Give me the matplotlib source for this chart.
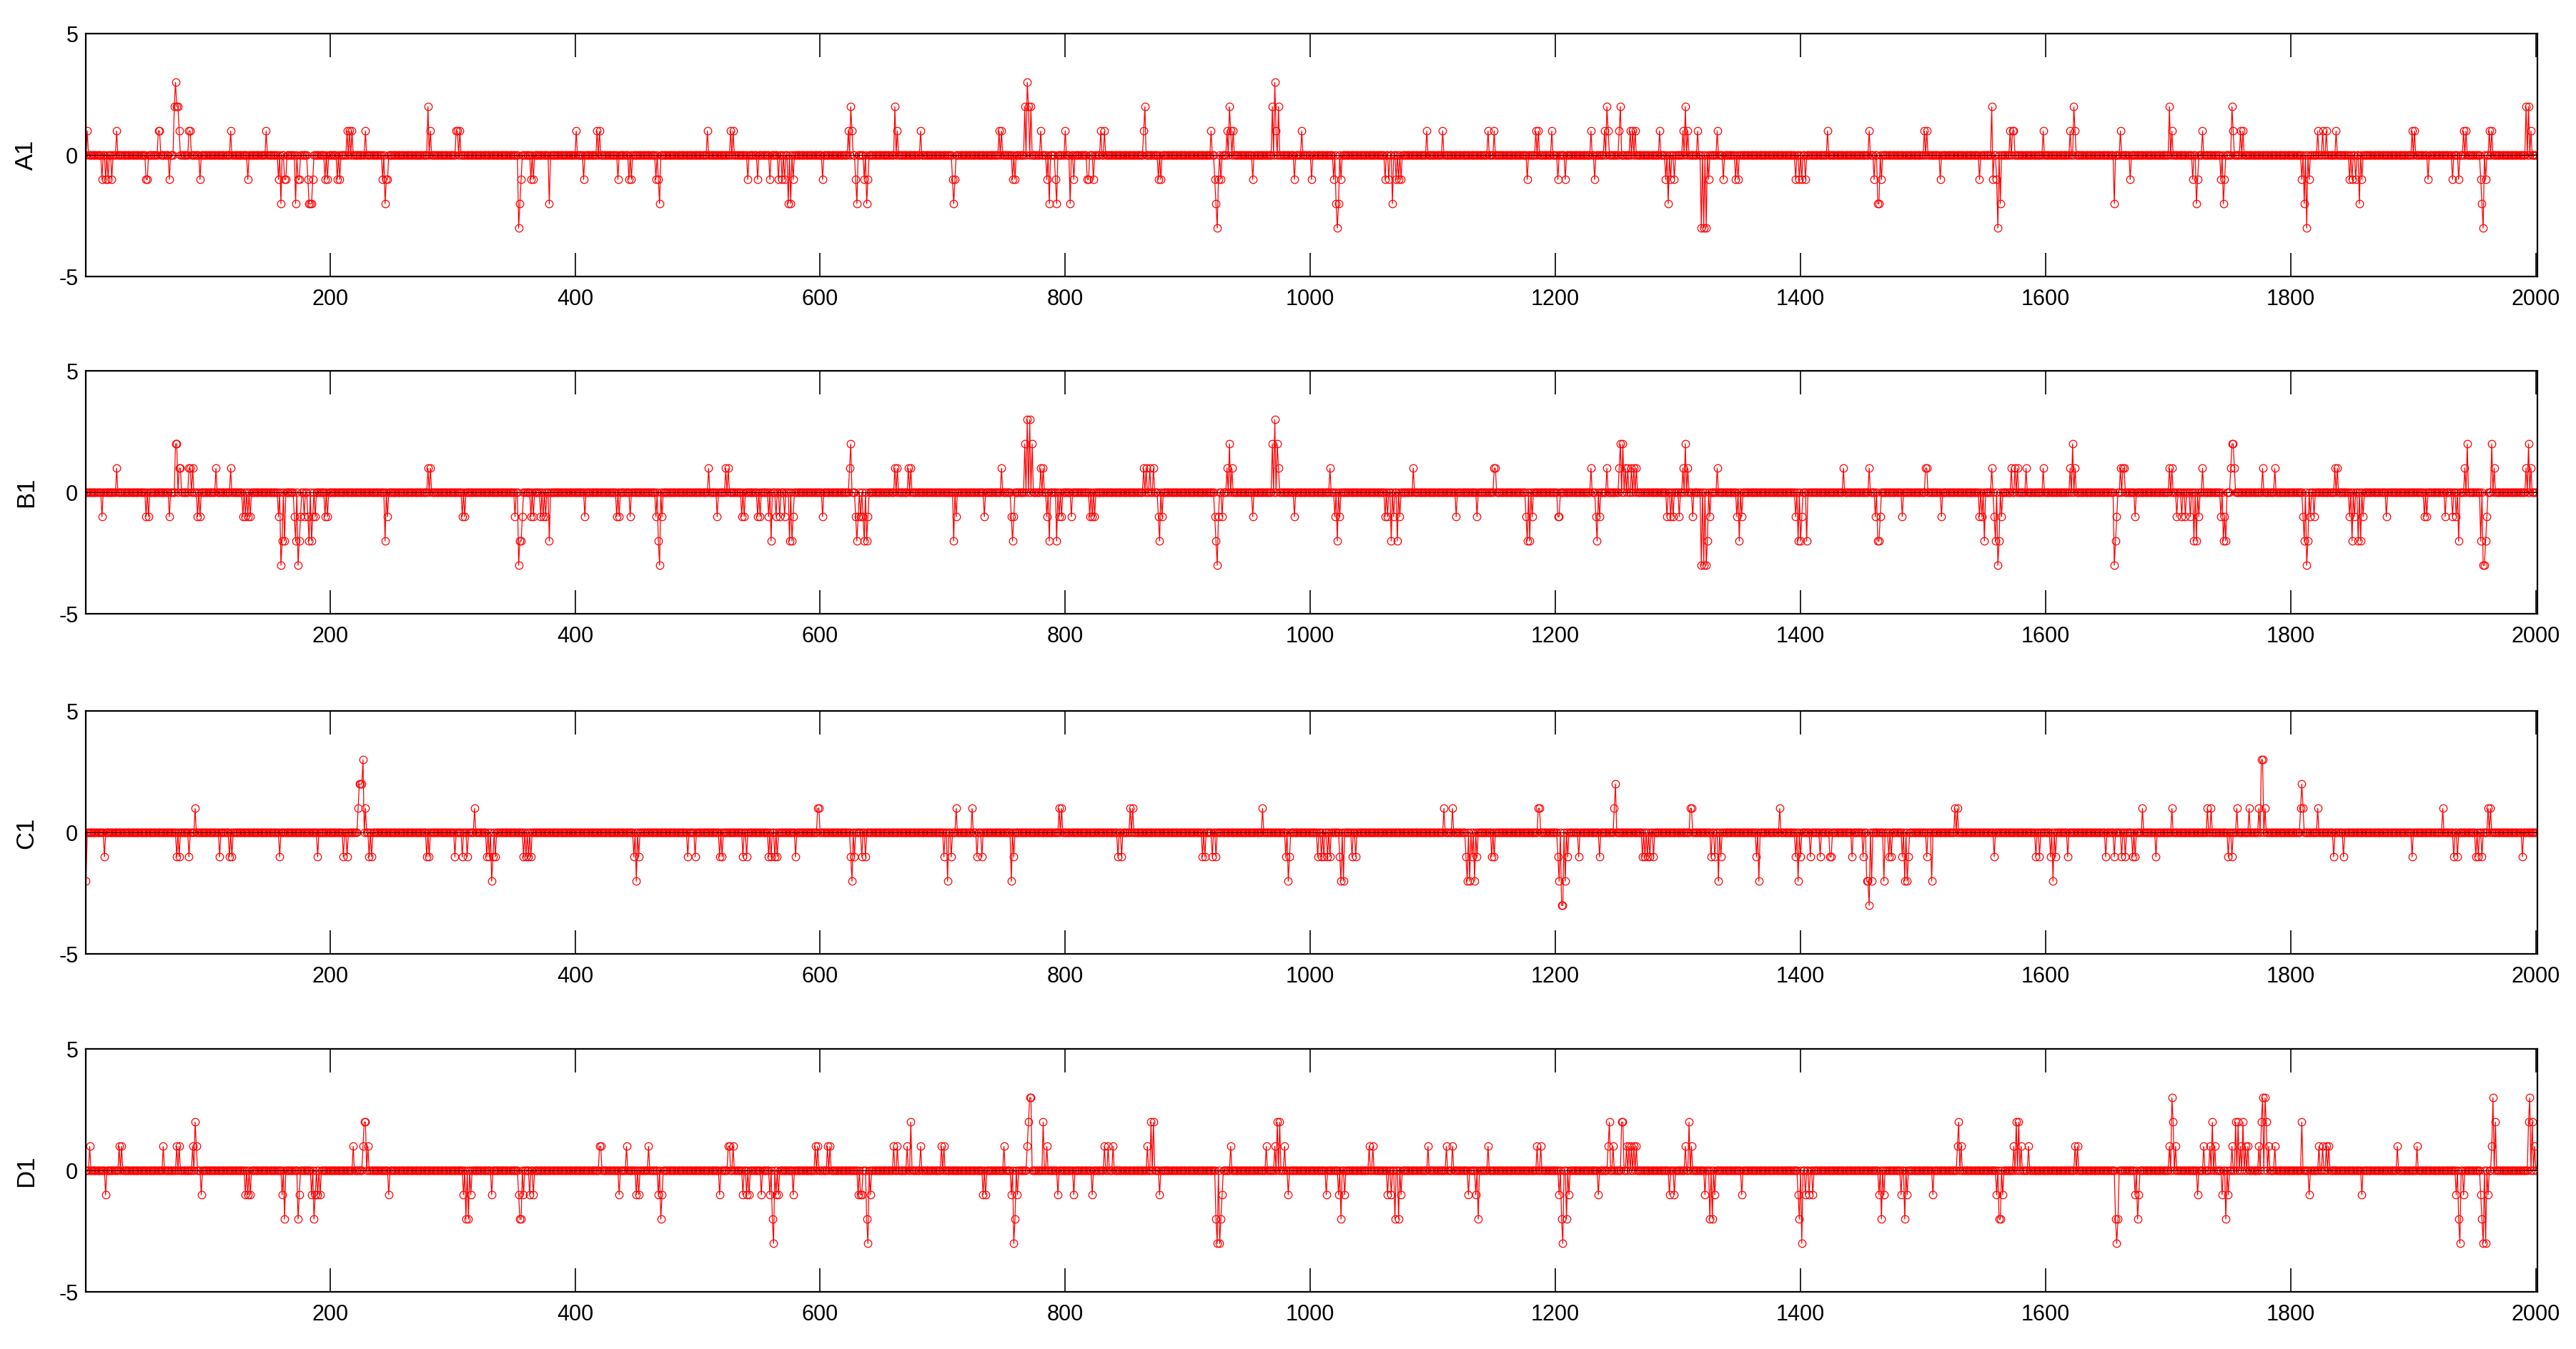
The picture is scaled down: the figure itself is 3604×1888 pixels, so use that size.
import numpy as np
import matplotlib
matplotlib.use("Agg")
import matplotlib.pyplot as plt

# number of samples in each series
n_samples = 2000

# nonzero samples: (sample index, value), every other sample is 0
a1_events = [(2,1),(14,-1),(17,-1),(19,-1),(22,-1),(26,1),(50,-1),(51,-1),(60,1),(61,1),(69,-1),(73,2),(74,3),(75,2),(76,2),(77,1),(85,1),(86,1),(94,-1),(119,1),(133,-1),(148,1),(158,-1),(160,-2),(163,-1),(164,-1),(172,-2),(174,-1),(175,-1),(182,-1),(183,-2),(184,-2),(185,-2),(186,-1),(196,-1),(198,-1),(206,-1),(208,-1),(214,1),(216,1),(218,1),(229,1),(243,-1),(245,-2),(246,-1),(247,-1),(280,2),(282,1),(303,1),(304,1),(306,1),(354,-3),(355,-2),(356,-1),(364,-1),(366,-1),(379,-2),(401,1),(407,-1),(418,1),(420,1),(435,-1),(444,-1),(446,-1),(466,-1),(468,-1),(469,-2),(508,1),(527,1),(529,1),(541,-1),(549,-1),(559,-1),(566,-1),(569,-1),(571,-1),(574,-2),(576,-2),(578,-1),(602,-1),(623,1),(625,2),(626,1),(629,-1),(630,-2),(636,-1),(638,-2),(639,-1),(661,2),(663,1),
    (682,1),(708,-1),(709,-2),(710,-1),(746,1),(748,1),(757,-1),(759,-1),(767,2),(769,3),(770,2),(772,2),(780,1),(785,-1),(787,-2),(792,-1),(793,-2),(800,1),(804,-2),(807,-1),(818,-1),(819,-1),(823,-1),(829,1),(832,1),(864,1),(865,2),(876,-1),(878,-1),(919,1),(922,-1),(923,-2),(924,-3),(925,-1),(927,-1),(932,1),(934,2),(935,1),(937,1),(953,-1),(969,2),(971,3),(972,1),(974,2),(987,-1),(993,1),(1001,-1),(1019,-1),(1021,-2),(1022,-3),(1023,-2),(1025,-1),(1061,-1),(1064,-1),(1067,-2),(1070,-1),(1072,-1),(1074,-1),(1095,1),(1108,1),(1145,1),(1150,1),(1177,-1),(1184,1),(1186,1),(1197,1),(1202,-1),(1208,-1),(1229,1),(1232,-1),(1240,1),(1242,2),(1243,1),(1252,1),(1253,2),(1261,1),(1263,1),(1265,1),(1285,1),(1290,-1),(1292,-2),(1294,-1),(1297,-1),(1304,1),(1306,2),(1308,1),(1316,1),(1319,-3),(1321,-3),(1323,-3),(1325,-1),(1332,1),(1337,-1),
    (1347,-1),(1349,-1),(1396,-1),(1399,-1),(1401,-1),(1404,-1),(1422,1),(1456,1),(1460,-1),(1463,-2),(1464,-2),(1466,-1),(1501,1),(1503,1),(1514,-1),(1546,-1),(1556,2),(1557,-1),(1560,-1),(1561,-3),(1563,-2),(1571,1),(1573,1),(1574,1),(1598,1),(1620,1),(1623,2),(1624,1),(1656,-2),(1661,1),(1669,-1),(1701,2),(1703,1),(1720,-1),(1723,-2),(1724,-1),(1728,1),(1743,-1),(1745,-2),(1746,-1),(1752,2),(1753,1),(1759,1),(1761,1),(1809,-1),(1811,-2),(1813,-3),(1815,-1),(1822,1),(1826,1),(1829,1),(1837,1),(1848,-1),(1850,-1),(1853,-1),(1856,-2),(1858,-1),(1899,1),(1901,1),(1912,-1),(1932,-1),(1937,-1),(1941,1),(1943,1),(1955,-1),(1956,-2),(1957,-3),(1959,-1),(1962,1),(1964,1),(1992,2),(1994,2),(1996,1)]

b1_events = [(14,-1),(26,1),(50,-1),(52,-1),(69,-1),(74,2),(75,2),(77,1),(78,1),(85,1),(86,1),(88,1),(92,-1),(94,-1),(107,1),(119,1),(129,-1),(131,-1),(133,-1),(135,-1),(158,-1),(160,-3),(161,-2),(163,-2),(171,-1),(172,-2),(174,-3),(175,-2),(176,-1),(179,-1),(182,-1),(183,-2),(185,-2),(186,-1),(188,-1),(196,-1),(198,-1),(245,-2),(247,-1),(280,1),(282,1),(308,-1),(310,-1),(351,-1),(354,-3),(355,-2),(356,-2),(357,-1),(364,-1),(366,-1),(372,-1),(374,-1),(376,-1),(379,-2),(408,-1),(434,-1),(436,-1),(445,-1),(466,-1),(468,-2),(469,-3),(471,-1),(509,1),(516,-1),(523,1),(525,1),(536,-1),(538,-1),(549,-1),(551,-1),(558,-1),(560,-2),(564,-1),(567,-1),(571,-1),(575,-2),(577,-2),(578,-1),(602,-1),(624,1),(625,2),(629,-1),(630,-2),(631,-1),(633,-1),(635,-1),(636,-2),(638,-2),(639,-1),(661,1),(663,1),
    (672,1),(674,1),(709,-2),(711,-1),(734,-1),(748,1),(756,-1),(757,-2),(758,-1),(767,2),(769,3),(771,3),(773,2),(780,1),(782,1),(785,-1),(787,-2),(793,-2),(795,-1),(797,-1),(805,-1),(820,-1),(822,-1),(824,-1),(864,1),(866,1),(869,1),(872,1),(876,-1),(877,-2),(879,-1),(922,-1),(923,-2),(924,-3),(925,-1),(928,-1),(932,1),(934,2),(936,1),(953,-1),(969,2),(971,3),(973,2),(974,1),(987,-1),(1016,1),(1020,-1),(1022,-2),(1024,-1),(1061,-1),(1063,-1),(1066,-2),(1068,-1),(1071,-2),(1073,-1),(1084,1),(1119,-1),(1136,-1),(1150,1),(1151,1),(1176,-1),(1177,-2),(1179,-2),(1181,-1),(1202,-1),(1203,-1),(1229,1),(1233,-1),(1234,-2),(1236,-1),(1242,1),(1252,1),(1253,2),(1255,2),(1257,1),(1259,1),(1262,1),(1264,1),(1266,1),(1291,-1),(1294,-1),(1296,-1),(1301,-1),(1304,1),(1306,2),(1308,1),(1312,-1),(1319,-3),(1321,-3),(1323,-3),(1324,-2),(1326,-1),(1332,1),
    (1348,-1),(1350,-2),(1352,-1),(1396,-1),(1398,-2),(1400,-2),(1401,-1),(1405,-2),(1435,1),(1456,1),(1461,-1),(1463,-2),(1464,-2),(1465,-1),(1483,-1),(1502,1),(1503,1),(1515,-1),(1546,-1),(1548,-1),(1550,-2),(1556,1),(1558,-1),(1559,-2),(1561,-3),(1562,-2),(1564,-1),(1572,1),(1575,1),(1577,1),(1584,1),(1598,1),(1620,1),(1622,2),(1624,1),(1656,-3),(1657,-2),(1658,-1),(1661,1),(1663,1),(1664,1),(1673,-1),(1701,1),(1703,1),(1707,-1),(1711,-1),(1714,-1),(1718,-1),(1721,-2),(1723,-2),(1725,-1),(1728,1),(1743,-1),(1745,-2),(1746,-1),(1747,-2),(1751,1),(1752,2),(1753,2),(1754,1),(1777,1),(1787,1),(1810,-1),(1811,-2),(1813,-3),(1814,-2),(1816,-1),(1819,-1),(1836,1),(1838,1),(1848,-1),(1850,-2),(1852,-1),(1855,-2),(1857,-2),(1859,-1),(1878,-1),(1909,-1),(1911,-1),(1926,-1),(1932,-1),(1935,-1),(1937,-2),(1942,1),(1944,2),(1955,-2),(1957,-3),(1958,-3),(1959,-2),(1960,-1),(1964,2),(1966,1),(1992,1),(1994,2),(1996,1)]

c1_events = [(1,-2),(16,-1),(75,-1),(77,-1),(85,-1),(90,1),(110,-1),(118,-1),(120,-1),(159,-1),(190,-1),(211,-1),(214,-1),(223,1),(224,2),(225,2),(226,2),(227,3),(229,1),(232,-1),(234,-1),(279,-1),(281,-1),(302,-1),(308,-1),(312,-1),(318,1),(328,-1),(330,-1),(332,-2),(333,-1),(335,-1),(358,-1),(360,-1),(362,-1),(364,-1),(448,-1),(450,-2),(452,-1),(492,-1),(498,-1),(518,-1),(520,-1),(537,-1),(540,-1),(558,-1),(560,-1),(563,-1),(565,-1),(580,-1),(598,1),(599,1),(625,-1),(626,-2),(628,-1),(634,-1),(637,-1),
    (701,-1),(704,-2),(707,-1),(711,1),(724,1),(728,-1),(732,-1),(756,-2),(758,-1),(795,1),(797,1),(843,-1),(846,-1),(853,1),(855,1),(912,-1),(914,-1),(920,-1),(923,-1),(961,1),(980,-1),(982,-2),(983,-1),(1006,-1),(1009,-1),(1011,-1),(1014,-1),(1016,-1),(1024,-1),(1025,-2),(1027,-2),(1034,-1),(1037,-1),(1109,1),(1116,1),(1127,-1),(1128,-2),(1130,-2),(1132,-1),(1134,-2),(1136,-1),(1148,-1),(1150,-1),(1186,1),(1187,1),(1202,-1),(1203,-2),(1205,-3),(1206,-3),(1208,-2),(1210,-1),(1219,-1),(1236,-1),(1248,1),(1249,2),(1271,-1),(1273,-1),(1275,-1),(1277,-1),(1280,-1),(1310,1),(1311,1),(1327,-1),(1330,-1),(1333,-2),(1335,-1),
    (1364,-1),(1366,-2),(1383,1),(1396,-1),(1398,-2),(1400,-1),(1408,-1),(1416,-1),(1424,-1),(1425,-1),(1442,-1),(1451,-1),(1454,-2),(1455,-2),(1456,-3),(1458,-2),(1468,-2),(1472,-1),(1474,-1),(1483,-1),(1485,-2),(1487,-2),(1488,-1),(1503,-1),(1507,-2),(1526,1),(1528,1),(1558,-1),(1592,-1),(1595,-1),(1604,-1),(1606,-2),(1608,-1),(1618,-1),(1649,-1),(1656,-1),(1662,-1),(1665,-1),(1671,-1),(1673,-1),(1679,1),(1690,-1),(1703,1),(1732,1),(1735,1),(1749,-1),(1752,-1),(1756,1),(1766,1),(1774,1),(1776,3),(1777,3),(1779,1),(1808,1),(1809,2),(1810,1),(1822,1),(1835,-1),(1843,-1),(1899,-1),(1924,1),(1933,-1),(1936,-1),(1951,-1),(1953,-1),(1956,-1),(1961,1),(1963,1),(1989,-1)]

d1_events = [(4,1),(17,-1),(28,1),(30,1),(64,1),(75,1),(77,1),(88,1),(90,2),(91,1),(95,-1),(131,-1),(133,-1),(135,-1),(161,-1),(163,-2),(174,-2),(175,-1),(185,-1),(187,-2),(188,-1),(190,-1),(192,-1),(219,1),(227,1),(228,2),(229,2),(231,1),(248,-1),(309,-1),(311,-2),(313,-2),(315,-1),(332,-1),(354,-1),(355,-2),(356,-2),(358,-1),(363,-1),(366,-1),(420,1),(421,1),(436,-1),(442,1),(450,-1),(452,-1),(460,1),(468,-1),(470,-2),(471,-1),(518,-1),(525,1),(526,1),(529,1),(537,-1),(540,-1),(542,-1),(552,-1),(559,-1),(561,-2),(562,-3),(564,-1),(566,-1),(578,-1),(596,1),(598,1),(606,1),(608,1),(631,-1),(633,-1),(634,-1),(638,-2),(639,-3),(641,-1),(660,1),(663,1),
    (671,1),(674,2),(682,1),(699,1),(701,1),(733,-1),(735,-1),(750,1),(756,-1),(758,-3),(759,-2),(761,-1),(769,1),(770,2),(771,3),(772,3),(782,2),(785,1),(794,-1),(807,-1),(822,-1),(832,1),(835,1),(839,1),(867,1),(870,2),(872,2),(877,-1),(923,-2),(924,-3),(926,-3),(927,-2),(928,-1),(935,1),(964,1),(971,1),(973,2),(975,2),(979,1),(982,-1),(1013,-1),(1023,-1),(1025,-2),(1028,-1),(1048,1),(1051,1),(1063,-1),(1066,-1),(1069,-2),(1072,-2),(1074,-1),(1096,1),(1111,1),(1116,1),(1129,-1),(1135,-1),(1137,-2),(1145,1),(1185,1),(1188,1),(1203,-1),(1205,-2),(1206,-3),(1209,-2),(1211,-1),(1235,-1),(1243,1),(1244,2),(1247,1),(1254,2),(1255,2),(1258,1),(1260,1),(1262,1),(1264,1),(1266,1),(1293,-1),(1297,-1),(1306,1),(1309,2),(1311,1),(1322,-1),(1326,-2),(1328,-2),(1330,-1),
    (1352,-1),(1398,-1),(1399,-2),(1401,-3),(1404,-1),(1407,-1),(1410,-1),(1464,-1),(1466,-2),(1468,-1),(1482,-1),(1485,-2),(1487,-1),(1508,-1),(1528,1),(1529,2),(1531,1),(1560,-1),(1562,-2),(1563,-2),(1565,-1),(1574,1),(1576,2),(1578,2),(1580,1),(1586,1),(1624,1),(1626,1),(1657,-2),(1658,-3),(1659,-2),(1673,-1),(1675,-2),(1676,-1),(1701,1),(1703,3),(1704,2),(1706,1),(1724,-1),(1729,1),(1734,1),(1736,2),(1738,1),(1744,-1),(1747,-2),(1749,-1),(1752,1),(1755,2),(1757,2),(1759,1),(1761,2),(1763,1),(1765,1),(1774,1),(1776,2),(1777,3),(1779,3),(1780,2),(1782,1),(1787,1),(1809,2),(1815,-1),(1823,1),(1826,1),(1829,1),(1831,1),(1858,-1),(1887,1),(1903,1),(1935,-1),(1937,-2),(1938,-3),(1941,-1),(1955,-1),(1956,-2),(1957,-3),(1959,-3),(1961,-1),(1964,1),(1965,3),(1967,2),(1994,2),(1995,3),(1997,2),(1999,1)]

labels = ["A1", "B1", "C1", "D1"]
all_events = [a1_events, b1_events, c1_events, d1_events]

x_ticks = [200, 400, 600, 800, 1000, 1200, 1400, 1600, 1800, 2000]
y_ticks = [-5, 0, 5]

plt.rcParams['font.family'] = ['Liberation Sans', 'DejaVu Sans']
plt.rcParams['axes.unicode_minus'] = False  # plain hyphen like the original "-5"

fig = plt.figure(figsize=(18.02, 9.44), dpi=200)

# axes boxes (left, bottom, width, height) in figure fraction
left = 0.0334
width = 0.9515
height = 0.1801
bottoms = [0.7949, 0.5449, 0.2927, 0.0422]

x = np.arange(1, n_samples + 1)

for label, events, bottom in zip(labels, all_events, bottoms):
    # turn the list of events into a full series
    y = np.zeros(n_samples)
    for idx, val in events:
        y[idx - 1] = val

    ax = fig.add_axes([left, bottom, width, height])
    ax.plot(x, y, color='red', linewidth=0.45, marker='o', markersize=3.8,
            markerfacecolor='none', markeredgecolor='red', markeredgewidth=0.45)
    ax.axhline(0, color='black', linewidth=0.3, zorder=3)

    ax.set_xlim(1, 2001)
    ax.set_ylim(-5, 5)
    ax.set_xticks(x_ticks)
    ax.set_yticks(y_ticks)
    ax.tick_params(direction='in', length=12, width=0.6, top=True, right=True,
                   labelsize=11, pad=6)
    ax.tick_params(axis='y', pad=4)
    for spine in ax.spines.values():
        spine.set_linewidth(0.8)

    ax.set_ylabel(label, fontsize=12.5, va='center')
    ax.yaxis.set_label_coords(-0.0244, 0.5)

plt.savefig("out.png", dpi=200)
